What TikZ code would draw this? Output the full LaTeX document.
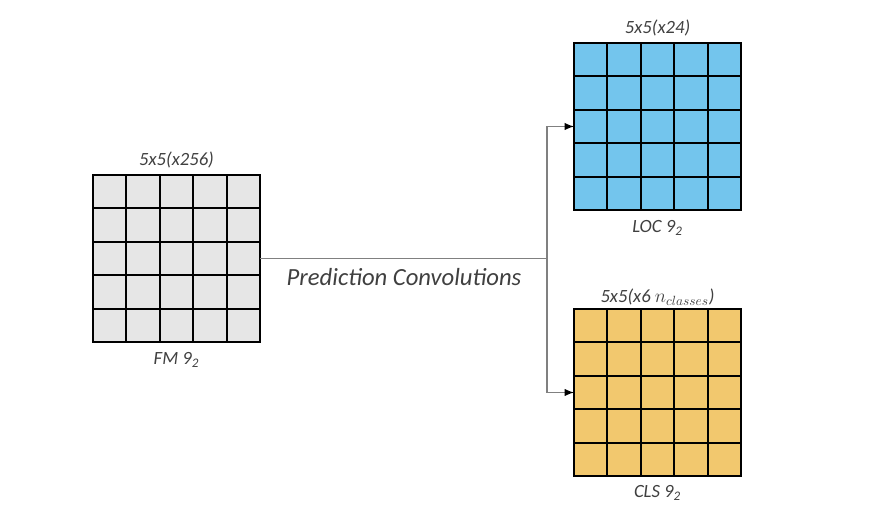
\documentclass[tikz,border=0pt]{standalone}
\usepackage{fontspec}
\setmainfont{Carlito}
\usetikzlibrary{matrix,arrows.meta,calc,positioning}
\usepackage{xcolor}
\newcommand{\myunit}{25.05pt}
\definecolor{fmgray}{RGB}{230,230,230}
\definecolor{locblue}{RGB}{115,197,237}
\definecolor{clsorange}{RGB}{242,200,110}
\definecolor{txtgray}{RGB}{64,64,64}
\definecolor{lngray}{RGB}{128,128,128}
\tikzset{
    fmsty/.style={draw=black,fill=fmgray,rectangle,minimum size=\myunit,line width=1.4pt,inner sep=0pt},
    locsty/.style={draw=black,fill=locblue,rectangle,minimum size=\myunit,line width=1.4pt,inner sep=0pt},
    clssty/.style={draw=black,fill=clsorange,rectangle,minimum size=\myunit,line width=1.4pt,inner sep=0pt},
    gridsty/.style={matrix of nodes,nodes in empty cells,column sep=-1.4pt,row sep=-1.4pt,inner sep=0pt,outer sep=0pt,ampersand replacement=\&},
    labsty/.style={text=txtgray,font=\itshape\fontsize{14}{16}\selectfont,inner sep=1pt},
    consty/.style={draw=lngray,line width=0.9pt},
}

\begin{document}
\begin{tikzpicture}[>={Latex[length=7pt,width=5.5pt,color=black]},x=0.75pt,y=-0.75pt]
\useasboundingbox (0,0) rectangle (870,516);

\matrix (fm) [gridsty, nodes={fmsty}] at (176.5,258.5)
{
  \& \& \& \& \\
  \& \& \& \& \\
  \& \& \& \& \\
  \& \& \& \& \\
  \& \& \& \& \\
};
\matrix (loc) [gridsty, nodes={locsty}] at (657.5,126.5)
{
  \& \& \& \& \\
  \& \& \& \& \\
  \& \& \& \& \\
  \& \& \& \& \\
  \& \& \& \& \\
};
\matrix (cls) [gridsty, nodes={clssty}] at (657.5,392.5)
{
  \& \& \& \& \\
  \& \& \& \& \\
  \& \& \& \& \\
  \& \& \& \& \\
  \& \& \& \& \\
};

\node[labsty,above=3pt of fm] (fmtop) {5x5(x256)};
\node[labsty,below=6pt of fm] (fmbot) {FM 9\textsubscript{2}};
\node[labsty,above=3pt of loc] (loctop) {5x5(x24)};
\node[labsty,below=6pt of loc] (locbot) {LOC 9\textsubscript{2}};
\node[labsty,above=1pt of cls] (clstop) {5x5(x6 $n_{classes}$)};
\node[labsty,below=5pt of cls] (clsbot) {CLS 9\textsubscript{2}};

\coordinate (split) at (547,258.5);
\draw[consty] (fm-3-5.east) -- (split);
\draw[consty,->] (split) |- (loc-3-1.west);
\draw[consty,->] (split) |- (cls-3-1.west);
\node[text=txtgray,font=\itshape\fontsize{18.5}{22}\selectfont] (pred) at (404,277) {Prediction Convolutions};
\end{tikzpicture}
\end{document}
